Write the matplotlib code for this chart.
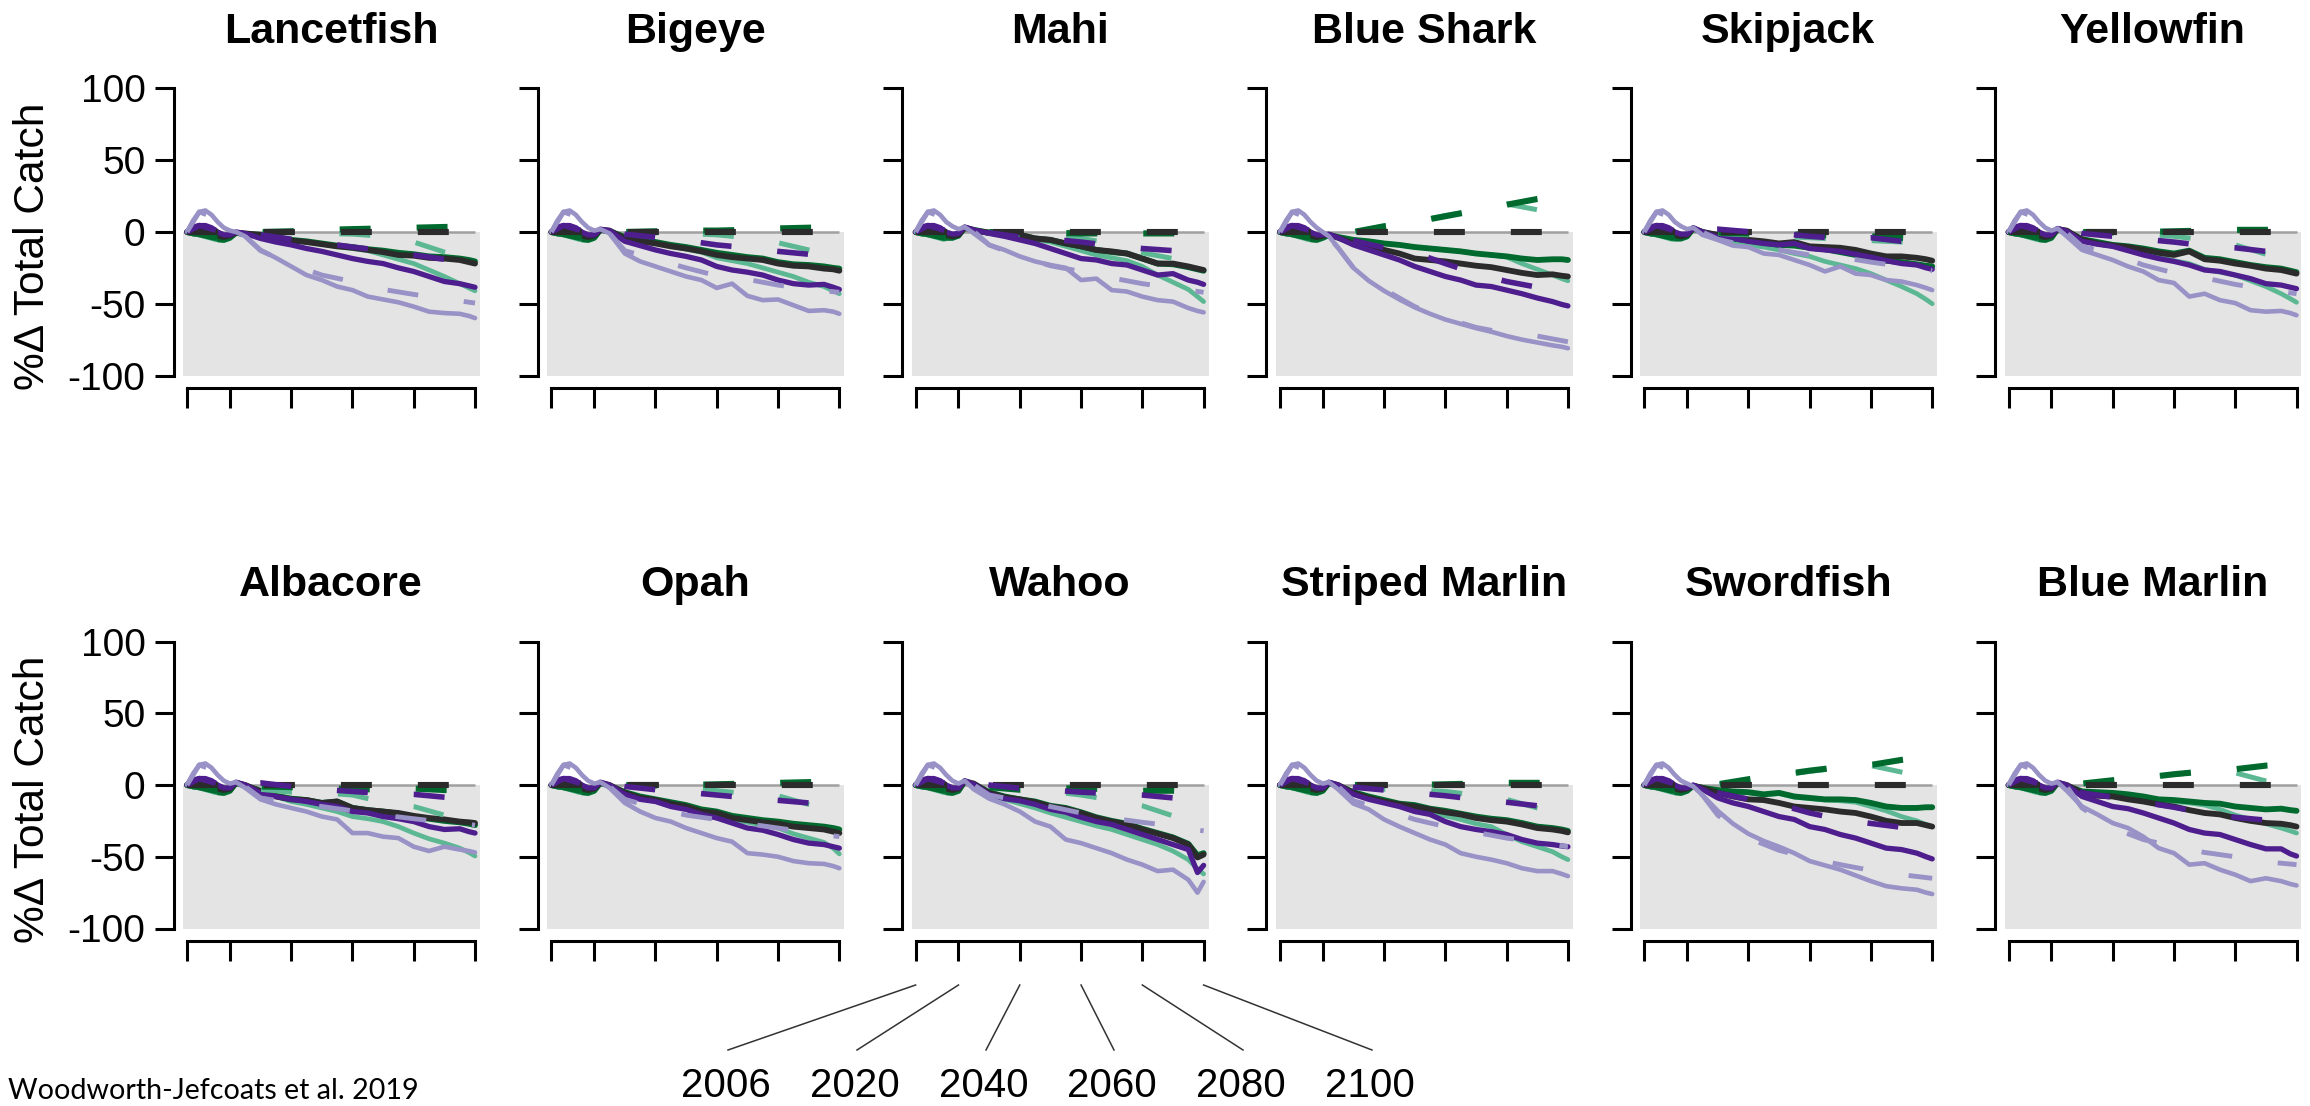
import matplotlib
matplotlib.use("Agg")
import matplotlib.pyplot as plt
from matplotlib.lines import Line2D

W, H, DPI = 2310, 1106, 100
plt.rcParams['font.family'] = ['Liberation Sans', 'DejaVu Sans']
plt.rcParams['lines.scale_dashes'] = False
plt.rcParams['axes.unicode_minus'] = False

# ---------------- data ----------------
YEARS = [2006, 2008, 2010, 2012, 2014, 2016, 2018, 2020, 2022, 2025,
         2030, 2035, 2040, 2045, 2050, 2055, 2060, 2065, 2070, 2075,
         2080, 2085, 2090, 2095, 2098, 2100]
DASH_YEARS = [2006, 2010, 2015, 2020, 2025, 2030, 2040, 2050, 2060, 2070, 2080, 2090, 2100]
SERIES = ["dark green", "light green", "black", "dark purple", "light purple"]
SPECIES = ["Lancetfish", "Bigeye", "Mahi", "Blue Shark", "Skipjack", "Yellowfin",
           "Albacore", "Opah", "Wahoo", "Striped Marlin", "Swordfish", "Blue Marlin"]
YTICKS = [-100, -50, 0, 50, 100]
XTICKS = [2006, 2020, 2040, 2060, 2080, 2100]
CITATION = "Woodworth-Jefcoats et al. 2019"
YLABEL = "%\u0394 Total Catch"

# solid lines: rows = dark green, light green, black, dark purple, light purple
LANCETFISH = [
    [0, -1, -1.5, -2, -3.5, -5, -5.5, -4, -0.5, -1.5, -2, -3.5, -5.5, -6.5, -8, -9.5, -10.5, -12, -13, -14.5, -15.5, -17, -17.5, -18.5, -19.5, -20.5],
    [0, -1.5, -2, -2.5, -4, -5.5, -6, -4.5, -1, -2, -2.5, -4, -6, -7, -8.5, -10, -11.5, -13, -16, -19, -22, -26.5, -31, -36, -39, -41],
    [0, 1, 2, 1.5, 0, -2.5, -3.5, -2.5, -0.5, -1, -2, -4, -6, -7, -8.5, -10, -11, -12.5, -14, -16, -16.5, -18, -18.5, -19.5, -21, -22],
    [0, 3.5, 4.5, 4.5, 3, 0, -2, -2, 0, -1, -4.5, -7, -9, -11.5, -13.5, -16, -18.5, -20.5, -22, -25, -27.5, -31, -34.5, -36, -37.5, -38.5],
    [0, 8, 14, 15, 12, 7, 3, 1, 0, -3, -12.5, -18, -24, -30, -33.5, -38, -40.5, -45, -47, -49, -52, -55.5, -56.5, -57, -58.5, -60],
]
BIGEYE = [
    [0, -1, -1.5, -2, -3.5, -5, -5.5, -4, 1.5, 0.5, -3.5, -5.5, -7, -9, -10.5, -12.5, -14.5, -16, -17.5, -18.5, -21, -22.5, -23, -24, -25, -25.5],
    [0, -1.5, -2, -2.5, -4, -5.5, -6, -4.5, 1, 0, -4, -6, -8, -10, -12, -14, -18, -20, -22, -25, -28, -31, -35, -38, -41, -43],
    [0, 1, 2, 1.5, 0, -2.5, -3.5, -2.5, 1.5, 1, -4.5, -6.5, -8, -10, -11.5, -13.5, -16, -17.5, -18.5, -19.5, -22, -23.5, -24, -25.5, -26, -27],
    [0, 3.5, 4.5, 4.5, 3, 0, -2, -2, 2, 1, -6.5, -9.5, -12.5, -15, -17, -19.5, -24, -26.5, -28, -30, -33.5, -36, -37, -36.5, -38.5, -40],
    [0, 8, 14, 15, 12, 7, 3, 1, 2, -1, -15, -20.5, -24, -27.5, -31, -33.5, -39, -36, -44.5, -47.5, -47, -51, -55, -54.5, -55.5, -57],
]
MAHI = [
    [0, -1, -1.5, -2, -3, -4, -4, -2.5, 3, 1.5, -0.5, -1.5, -2, -4.5, -5.5, -8, -10, -12.5, -14, -15, -18.5, -22, -22.5, -24.5, -26, -27],
    [0, -1.5, -2, -2.5, -3.5, -4.5, -4.5, -3, 2.5, 0.5, -1, -2, -3, -5, -7, -10, -13, -16, -18, -20, -24, -30, -35, -40, -45, -48.5],
    [0, 1, 2, 1.5, 0, -2, -3, -2, 3, 1, -0.5, -1.5, -2, -4.5, -5.5, -8, -10, -12.5, -13.5, -15, -18.5, -22, -22, -24, -25.5, -26.5],
    [0, 3.5, 4.5, 4.5, 3, 0, -1.5, -1, 3.5, 1.5, -1, -3, -5.5, -8, -11.5, -15, -18.5, -19.5, -22, -23, -26.5, -30, -29, -33.5, -35, -36.5],
    [0, 8, 14, 15, 12, 7, 4, 2, 3.5, -1, -9, -12.5, -17, -20.5, -23, -25, -33.5, -32.5, -40.5, -41.5, -45, -47.5, -48.5, -53, -55, -56],
]
BLUE_SHARK = [
    [0, -1, -1.5, -2, -3.5, -5, -5.5, -4, -2, -3.5, -5.5, -6.5, -8, -9, -10.5, -11.5, -12.5, -13.5, -15, -16, -17, -18.5, -19.5, -19, -19, -19.5],
    [0, -1.5, -2, -2.5, -4, -5.5, -6, -4.5, -2.5, -4, -5.5, -6.5, -8, -9, -10.5, -11.5, -12.5, -13.5, -15, -16, -17.5, -22, -26, -30, -32.5, -34],
    [0, 1, 2, 1.5, 0, -2.5, -3.5, -2.5, -2, -4, -8, -10, -12.5, -15, -18.5, -19.5, -20.5, -22, -23.5, -24.5, -26.5, -28.5, -30, -29.5, -30.5, -31],
    [0, 3.5, 4.5, 4.5, 3, 0, -2, -2, -1.5, -4, -9, -12.5, -16, -19.5, -24, -27.5, -31, -33.5, -37, -38, -40.5, -43, -46, -48.5, -50.5, -51.5],
    [0, 8, 14, 15, 12, 7, 3, 0, -3, -11, -25, -34, -41, -47, -52.5, -57, -61, -64, -67, -69.5, -72.5, -75, -77, -79, -80, -81],
]
SKIPJACK = [
    [0, -1, -1.5, -2, -3.5, -4.5, -4.5, -3, 2.5, 0, -2.5, -4.5, -6, -7.5, -9, -9.5, -11, -12, -14, -16, -18, -20, -21, -22.5, -23.5, -24],
    [0, -1.5, -2, -2.5, -4, -5, -5, -3.5, 2, -0.5, -4.5, -6.5, -9, -10.5, -12.5, -15, -17, -20.5, -23, -25.5, -29, -33.5, -38, -43, -47, -50],
    [0, 1, 2, 1.5, 0, -2, -3, -2, 2.5, 0, -2, -4, -5.5, -6.5, -8, -7, -10, -10.5, -11, -12.5, -15, -17, -17, -18, -19, -20],
    [0, 3.5, 4.5, 4.5, 3, 0, -1.5, -1.5, 3, 0, -3.5, -4.5, -6.5, -8, -9, -8, -11.5, -12.5, -13.5, -15.5, -17.5, -20, -22, -23, -25, -26],
    [0, 8, 14, 15, 12, 7, 4, 2, 3, -2, -5.5, -9.5, -10.5, -15, -16, -19.5, -23, -27.5, -24, -29, -30, -33.5, -34.5, -37, -39, -40.5],
]
YELLOWFIN = [
    [0, -1, -1.5, -2, -3.5, -5, -5.5, -4, 2, 0.5, -5, -7, -9, -10, -11.5, -13.5, -15, -13, -18, -19, -21, -23, -24.5, -25.5, -27, -28],
    [0, -1.5, -2, -2.5, -4, -5.5, -6, -4.5, 1.5, 0, -6, -8, -10, -12.5, -15, -17.5, -20, -22, -26, -28, -30, -34, -38, -43, -46.5, -49],
    [0, 1, 2, 1.5, 0, -2.5, -3.5, -2.5, 2, 1, -5.5, -8, -9.5, -10.5, -12.5, -14.5, -16, -13.5, -19, -20, -22, -23.5, -25.5, -26.5, -28, -29],
    [0, 3.5, 4.5, 4.5, 3, 0, -2, -2, 2.5, 0.5, -6.5, -8.5, -10, -13, -16, -18.5, -20.5, -23, -26.5, -27.5, -30, -32.5, -36, -37, -38.5, -39.5],
    [0, 8, 14, 15, 12, 7, 3, 1, 2.5, -3, -12.5, -16, -19.5, -24, -27.5, -33.5, -35.5, -45, -43, -47.5, -49.5, -54.5, -55.5, -55, -56.5, -58],
]
ALBACORE = [
    [0, -1, -1.5, -2, -3.5, -5, -5.5, -4, 1.5, -0.5, -4, -7.5, -9.5, -10.5, -12.5, -11.5, -16, -17.5, -18.5, -20, -22, -23.5, -25, -26, -27, -28],
    [0, -1.5, -2, -2.5, -4, -5.5, -6, -4.5, 1, -1, -5.5, -8, -11.5, -13.5, -16, -18.5, -22, -23.5, -25.5, -29, -33.5, -37.5, -40.5, -44, -47, -49.5],
    [0, 1, 2, 1.5, 0, -2.5, -3.5, -2.5, 1.5, 0, -4.5, -8, -10, -10.5, -12.5, -11.5, -16, -17.5, -18.5, -19.5, -21.5, -23, -24, -25.5, -26, -26.5],
    [0, 3.5, 4.5, 4.5, 3, 0, -2, -2, 2, 0, -5.5, -8, -10, -11.5, -13.5, -15, -18.5, -19.5, -22, -23.5, -25.5, -29, -31, -30.5, -32.5, -33.5],
    [0, 8, 14, 15, 12, 7, 3, 1, 2, -2, -10, -13.5, -16, -18.5, -22, -24, -33.5, -33.5, -36, -37, -43, -46, -43, -45, -46, -47],
]
OPAH = [
    [0, -1, -1.5, -2, -3.5, -5, -5.5, -4, 1.5, -0.5, -5, -8, -10, -12, -14, -17, -18.5, -21.5, -23, -24.5, -25.5, -27, -28, -29, -30, -31],
    [0, -1.5, -2, -2.5, -4, -5.5, -6, -4.5, 1, -1, -6, -9.5, -11.5, -13.5, -15.5, -19, -20.5, -24, -26, -28, -30, -34, -37, -40, -44, -48],
    [0, 1, 2, 1.5, 0, -2.5, -3.5, -2.5, 1.5, 0, -5.5, -9, -10.5, -13, -15, -18.5, -19.5, -23, -24.5, -26, -27, -29, -30, -31, -32.5, -33.5],
    [0, 3.5, 4.5, 4.5, 3, 0, -2, -2, 2, 0, -6.5, -10, -11.5, -15, -17, -20.5, -23, -26.5, -30, -31.5, -34.5, -38, -40.5, -41.5, -43, -44],
    [0, 8, 14, 15, 12, 7, 3, 1, 2, -2, -12.5, -18.5, -23, -25.5, -30, -33.5, -37, -39.5, -47.5, -48.5, -50, -53, -54.5, -55, -56.5, -58],
]
WAHOO = [
    [0, -1, -1.5, -2, -3.5, -5, -5.5, -4, 2.5, 0.5, -5, -8, -10, -11.5, -14.5, -16, -19, -22.5, -25, -27, -30.5, -33.5, -36.5, -41, -49, -47.5],
    [0, -1.5, -2, -2.5, -4, -5.5, -6, -4.5, 2, 0, -7, -10, -13, -16, -19.5, -22.5, -25.5, -28.5, -31, -34.5, -38, -41.5, -46, -52, -58.5, -62],
    [0, 1, 2, 1.5, 0, -2.5, -3.5, -2.5, 2.5, 1, -5.5, -8.5, -10, -12, -15, -16.5, -19.5, -23, -25.5, -27.5, -31, -34, -37, -41.5, -50.5, -48.5],
    [0, 3.5, 4.5, 4.5, 3, 0, -2, -2, 3, 0.5, -6.5, -9.5, -11, -13.5, -17, -19, -22.5, -25.5, -27.5, -31, -34.5, -38, -41.5, -45, -61, -56],
    [0, 8, 14, 15, 12, 7, 3, 1, 3, -3, -9.5, -13.5, -18.5, -25.5, -29, -38, -40.5, -44, -47.5, -52, -55.5, -60, -59, -66, -75, -67.5],
]
STRIPED_MARLIN = [
    [0, -1, -1.5, -2, -3.5, -5, -5.5, -4, 1.5, -0.5, -5, -8, -10.5, -13, -14, -16.5, -18, -20, -22, -23.5, -24.5, -26.5, -29, -30, -31, -32],
    [0, -1.5, -2, -2.5, -4, -5.5, -6, -4.5, 1, -1, -6, -9, -12, -14.5, -17, -19.5, -21.5, -24, -27, -29, -34.5, -39.5, -43, -46.5, -50, -52],
    [0, 1, 2, 1.5, 0, -2.5, -3.5, -2.5, 1.5, 0, -5.5, -9, -11.5, -13.5, -15, -17, -19, -20.5, -23, -24.5, -25.5, -27.5, -30, -31, -32, -33],
    [0, 3.5, 4.5, 4.5, 3, 0, -2, -2, 2, 0, -6.5, -10, -12.5, -15, -18.5, -20.5, -25.5, -29, -31, -32.5, -34.5, -38, -40.5, -41.5, -42.5, -43],
    [0, 8, 14, 15, 12, 7, 3, 1, 2, -3, -13, -17, -24, -29, -33.5, -38, -41.5, -47.5, -50, -52, -54.5, -58, -60, -60, -62, -63.5],
]
SWORDFISH = [
    [0, -1, -1.5, -2, -3.5, -5, -5.5, -4, -0.5, -2, -3.5, -4.5, -5, -6.5, -5.5, -8, -9, -10, -10, -10.5, -12.5, -15, -16, -16, -15.5, -15.5],
    [0, -1.5, -2, -2.5, -4, -5.5, -6, -4.5, -1, -2.5, -4, -5, -5.5, -7, -6, -8.5, -9.5, -10.5, -11, -12, -15, -18, -22, -25, -27.5, -29],
    [0, 1, 2, 1.5, 0, -2.5, -3.5, -2.5, -0.5, -2, -5.5, -8, -10, -10.5, -12.5, -15, -16, -17, -18.5, -19.5, -22, -25, -26.5, -26.5, -28, -29],
    [0, 3.5, 4.5, 4.5, 3, 0, -2, -2, 0, -3, -9, -12.5, -15, -18.5, -22, -24, -29, -31, -34.5, -37, -40.5, -44, -45, -47.5, -50, -51.5],
    [0, 8, 14, 15, 12, 7, 3, 1, -1, -7, -18, -27, -34, -39, -43, -47.5, -53, -56, -59, -63, -67, -70.5, -72, -73, -75, -76],
]
BLUE_MARLIN = [
    [0, -1, -1.5, -2, -3.5, -5, -5.5, -4, 1.5, -0.5, -4.5, -5, -5.5, -6.5, -8, -10, -10.5, -11.5, -12.5, -13, -15, -16, -17, -16.5, -17.5, -18],
    [0, -1.5, -2, -2.5, -4, -5.5, -6, -4.5, 1, -1, -5, -5.5, -6, -7, -8.5, -10.5, -11.5, -12.5, -14, -17, -21, -24, -27, -30, -32, -33.5],
    [0, 1, 2, 1.5, 0, -2.5, -3.5, -2.5, 1.5, 0, -5.5, -7.5, -8, -10, -11.5, -13.5, -15, -17.5, -19.5, -20.5, -23, -25, -26.5, -27, -28, -29],
    [0, 3.5, 4.5, 4.5, 3, 0, -2, -2, 2, 0, -8, -11.5, -15, -16.5, -19.5, -23, -26.5, -31, -33.5, -34.5, -38, -41.5, -44.5, -44.5, -48, -49.5],
    [0, 8, 14, 15, 12, 7, 3, 1, 2, -4, -15, -20.5, -26.5, -30, -36, -44, -47.5, -55.5, -54.5, -59, -62.5, -67, -65, -67, -69, -70],
]

# dashed lines (same row order), at DASH_YEARS
LANCETFISH_DASHED = [
    [0, -1.5, -4, -4, -1.5, 0, 0.5, 1.5, 2, 2.5, 3, 3.5, 4],
    [0, -2, -5, -4.5, -2, -0.5, -0.5, -1, -1.5, -3, -7, -14, -20],
    [0, 0, 0, 0, 0, 0, 0, 0, 0, 0, 0, 0, 0],
    [0, 4.5, 1.5, -2, -1, -2, -5, -7.5, -10.5, -13, -16, -19, -21],
    [0, 14, 10, 1, -3, -13, -22.5, -30, -34.5, -40, -43.5, -46.5, -49.5],
]
BIGEYE_DASHED = [
    [0, -1.5, -4, -4, 0.5, 0, 0.5, 1, 1, 1.5, 2.5, 3, 3.5],
    [0, -2, -5, -4.5, 0, 0, -0.5, -1, -2, -4, -7.5, -12.5, -17],
    [0, 0, 0, 0, 0, 0, 0, 0, 0, 0, 0, 0, 0],
    [0, 4.5, 1.5, -2, 1, -1.5, -3.7, -6, -9, -11, -13.5, -15.5, -17.5],
    [0, 14, 10, 1, -1, -13, -19, -25, -30.5, -33, -37, -40, -42],
]
MAHI_DASHED = [
    [0, -1.5, -4, -4, 2, 0, -0.5, -0.5, -1, -1, -1, -1, -1],
    [0, -2, -5, -4.5, 1.5, -0.5, -1.5, -3, -4.5, -8, -14.5, -18.5, -22],
    [0, 0, 0, 0, 0, 0, 0, 0, 0, 0, 0, 0, 0],
    [0, 4.5, 1.5, -2, 2.5, -0.5, -3.5, -5, -7, -9.5, -11.5, -13, -15],
    [0, 14, 10, 1, 0.5, -9, -17, -23.5, -27.5, -32, -36, -39, -42],
]
BLUE_SHARK_DASHED = [
    [0, -1.5, -4, -4, -1, 0, 4, 7, 11, 15, 19, 23, 26],
    [0, -2, -5, -4.5, -1.5, 0, 4, 7, 11.5, 15, 19.5, 15.5, 11],
    [0, 0, 0, 0, 0, 0, 0, 0, 0, 0, 0, 0, 0],
    [0, 4.5, 1.5, -2, -3, -6, -11, -14.5, -22, -29, -34.5, -38.5, -42],
    [0, 14, 10, 1, -11, -25, -40, -52, -60, -66.5, -70.5, -72.5, -76.5],
]
SKIPJACK_DASHED = [
    [0, -1.5, -4, -4, 1.5, -0.5, -1, -1.5, -2, -2.5, -3, -4, -5],
    [0, -2, -5, -4.5, 1, -1, -2, -3, -4, -5, -6, -7, -9],
    [0, 0, 0, 0, 0, 0, 0, 0, 0, 0, 0, 0, 0],
    [0, 4.5, 1.5, -2, 2, 2, 0.2, -1, -3, -4.5, -4, -6.5, -8],
    [0, 14, 10, 1, 0, -5, -10, -12.5, -16, -17.5, -21, -24, -27],
]
YELLOWFIN_DASHED = [
    [0, -1.5, -4, -4, 1, 0, 0, 0, 0.5, 1, 1.5, 1.5, 2],
    [0, -2, -5, -4.5, 0.5, -0.5, -1, -1.5, -3, -5.5, -9, -15.5, -21],
    [0, 0, 0, 0, 0, 0, 0, 0, 0, 0, 0, 0, 0],
    [0, 4.5, 1.5, -2, 1.5, -1, -3, -5, -7, -9.5, -11, -13.5, -16],
    [0, 14, 10, 1, -0.5, -10, -15, -23, -28.5, -32, -36.5, -40, -43],
]
ALBACORE_DASHED = [
    [0, -1.5, -4, -4, 0.5, -1, -1.5, -2, -3, -3, -2.5, -3.5, -4],
    [0, -2, -5, -4.5, 0, -3, -5, -5.5, -7, -12, -15, -21, -26],
    [0, 0, 0, 0, 0, 0, 0, 0, 0, 0, 0, 0, 0],
    [0, 4.5, 1.5, -2, 1, 1.5, -1, -3, -4.5, -6, -6.5, -8.5, -10],
    [0, 14, 10, 1, -1, -9, -12.5, -15, -18, -21, -23.5, -26, -28],
]
OPAH_DASHED = [
    [0, -1.5, -4, -4, 0.5, 0, 0, 0, 0.5, 1, 1.5, 2, 2.5],
    [0, -2, -5, -4.5, 0, -0.5, -1, -2, -4, -6, -7.5, -13.5, -18],
    [0, 0, 0, 0, 0, 0, 0, 0, 0, 0, 0, 0, 0],
    [0, 4.5, 1.5, -2, 1, -1, -3.3, -5, -7, -9, -10.7, -12.5, -14.5],
    [0, 14, 10, 1, -1, -10, -16, -21, -24, -27, -30, -33, -36],
]
WAHOO_DASHED = [
    [0, -1.5, -4, -4, 1.5, -1.5, -3.3, -2.5, -2.3, -3, -4, -4, -5],
    [0, -2, -5, -4.5, 1, -1.5, -3, -4.5, -7, -10.5, -14.5, -21.5, -27],
    [0, 0, 0, 0, 0, 0, 0, 0, 0, 0, 0, 0, 0],
    [0, 4.5, 1.5, -2, 2, 0, -2.3, -3.5, -5, -6, -7, -9, -11],
    [0, 14, 10, 1, 0, -7, -11, -15, -19.5, -23, -26, -28.5, -32],
]
STRIPED_MARLIN_DASHED = [
    [0, -1.5, -4, -4, 0.5, 0, 0, 0, 0.5, 1, 1.5, 1.5, 2],
    [0, -2, -5, -4.5, 0, -1.5, -3, -3.5, -4.5, -7, -10, -16, -21],
    [0, 0, 0, 0, 0, 0, 0, 0, 0, 0, 0, 0, 0],
    [0, 4.5, 1.5, -2, 1, -1.5, -3.5, -5.5, -7.5, -10, -12, -14.5, -17],
    [0, 14, 10, 1, -1, -11, -17, -24, -29, -33, -37, -40, -43],
]
SWORDFISH_DASHED = [
    [0, -1.5, -4, -4, -1.5, 0.5, 4, 7, 10, 12.5, 14, 17.5, 20],
    [0, -2, -5, -4.5, -2, 0, 3.5, 6.5, 9.5, 12, 13.5, 9, 5.5],
    [0, 0, 0, 0, 0, 0, 0, 0, 0, 0, 0, 0, 0],
    [0, 4.5, 1.5, -2, -1, -5.5, -10, -13.5, -19.5, -24, -26.8, -29.5, -32],
    [0, 14, 10, 1, -7, -21, -37, -45.5, -51, -55.5, -59.5, -62.5, -65],
]
BLUE_MARLIN_DASHED = [
    [0, -1.5, -4, -4, 0.5, 1, 3.3, 5, 7.5, 9.5, 11, 13.5, 15],
    [0, -2, -5, -4.5, 0, 1, 3, 5, 7.5, 9, 8.5, 2.8, -1],
    [0, 0, 0, 0, 0, 0, 0, 0, 0, 0, 0, 0, 0],
    [0, 4.5, 1.5, -2, 1, -5.5, -8.5, -12, -15.5, -19.5, -22.5, -24.5, -27],
    [0, 14, 10, 1, -1, -16, -30, -38, -43, -47, -50, -53.5, -55.5],
]

SOLID = [LANCETFISH, BIGEYE, MAHI, BLUE_SHARK, SKIPJACK, YELLOWFIN,
         ALBACORE, OPAH, WAHOO, STRIPED_MARLIN, SWORDFISH, BLUE_MARLIN]
DASHED = [LANCETFISH_DASHED, BIGEYE_DASHED, MAHI_DASHED, BLUE_SHARK_DASHED,
          SKIPJACK_DASHED, YELLOWFIN_DASHED, ALBACORE_DASHED, OPAH_DASHED,
          WAHOO_DASHED, STRIPED_MARLIN_DASHED, SWORDFISH_DASHED, BLUE_MARLIN_DASHED]

# ---------------- style / layout ----------------
COLORS = ['#00692d', '#5cb893', '#2b2b2b', '#4e1d8e', '#9892c6']
LWS = [4.2, 3.4, 4.2, 3.8, 3.3]
SOLID_Z = [3, 2, 4, 5, 6]
DASH_Z = [8, 7, 9, 10, 11]
DASH_PATTERN = (0, (22.3, 33.1))
BG = '#e4e4e4'

X0, COL_DX, PX_YR = 187.0, 364.3, 3.064     # pixel of 2006 in first column
Y0, ROW_DY, PX_UNIT = 232.0, 553.0, 1.435   # pixel of 0 in first row
XLIM = (1998, 2106)
YLIM = (-115, 115)
FS_TICK = 28

fig = plt.figure(figsize=(W / DPI, H / DPI), dpi=DPI)

for k, name in enumerate(SPECIES):
    r, c = divmod(k, 6)
    x2006 = X0 + c * COL_DX
    yzero = Y0 + r * ROW_DY
    left = x2006 - (2006 - XLIM[0]) * PX_YR
    width = (XLIM[1] - XLIM[0]) * PX_YR
    top = yzero - YLIM[1] * PX_UNIT
    height = (YLIM[1] - YLIM[0]) * PX_UNIT
    ax = fig.add_axes([left / W, 1 - (top + height) / H, width / W, height / H])
    ax.set_xlim(*XLIM)
    ax.set_ylim(*YLIM)
    ax.patch.set_alpha(0)

    ax.fill_between([XTICKS[0] - 1.3, XTICKS[-1] + 1.6], YTICKS[0], 0,
                    color=BG, lw=0, zorder=0)
    ax.hlines(0, XTICKS[0], XTICKS[-1], colors='#a0a0a0', lw=1.8, zorder=1)

    for i in range(5):
        ax.plot(YEARS, SOLID[k][i], color=COLORS[i], lw=LWS[i],
                solid_capstyle='round', solid_joinstyle='round', zorder=SOLID_Z[i])
    for i in range(5):
        ax.plot(DASH_YEARS, DASHED[k][i], color=COLORS[i], lw=LWS[i] + 0.2,
                linestyle=DASH_PATTERN, dash_capstyle='butt', zorder=DASH_Z[i])

    for s in ['top', 'right']:
        ax.spines[s].set_visible(False)
    ax.spines['left'].set_position(('data', 2001.6))
    ax.spines['left'].set_bounds(YTICKS[0], YTICKS[-1])
    ax.spines['bottom'].set_position(('data', -108.7))
    ax.spines['bottom'].set_bounds(XTICKS[0], XTICKS[-1])
    for s in ['left', 'bottom']:
        ax.spines[s].set_linewidth(2.2)
    ax.set_yticks(YTICKS)
    ax.set_xticks(XTICKS)
    ax.tick_params(axis='y', length=13.7, width=2.2, labelsize=FS_TICK, pad=6.5,
                   labelleft=(c == 0))
    ax.tick_params(axis='x', length=14.4, width=2.2, labelbottom=False)

    fig.text((X0 + 144 + c * COL_DX) / W, 1 - (43 + r * ROW_DY) / H, name,
             ha='center', va='baseline', fontsize=31, fontweight='bold')

fig.canvas.draw()
renderer = fig.canvas.get_renderer()

# y labels, fitted to the length they have in the reference (287 px)
for r in range(2):
    yl = fig.text(33 / W, 1 - (246 + r * ROW_DY) / H, YLABEL, rotation=90,
                  ha='center', va='center', fontsize=FS_TICK)
    ext = yl.get_window_extent(renderer)
    yl.set_fontsize(FS_TICK * 287.0 / ext.height)

# year annotation under Wahoo panel
LABEL_X = [726, 855, 984, 1112, 1241, 1370]
for yr, lx in zip(XTICKS, LABEL_X):
    tx = X0 + 2 * COL_DX + (yr - 2006) * PX_YR
    fig.add_artist(Line2D([tx / W, (lx + 2) / W], [1 - 985 / H, 1 - 1050 / H],
                          transform=fig.transFigure, color='#333333', lw=1.1))
    fig.text(lx / W, 1 - 1097 / H, str(yr), ha='center', va='baseline', fontsize=29)

# citation, fitted to its width in the reference
t = fig.text(8 / W, 1 - 1099 / H, CITATION, ha='left', va='baseline',
             fontsize=22, family=['Lato', 'DejaVu Sans'])
bb = t.get_window_extent(renderer)
t.set_fontsize(22 * 409.0 / bb.width)

fig.savefig('out.png', dpi=DPI)
